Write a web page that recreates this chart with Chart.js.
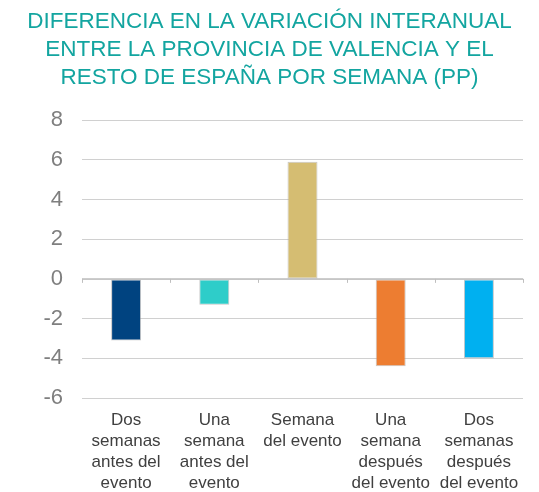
<!DOCTYPE html>
<html>
<head>
<meta charset="utf-8">
<script src="https://cdn.jsdelivr.net/npm/chart.js@4"></script>
<style>
  html, body { margin: 0; padding: 0; background: #fff; }
  #wrap { width: 539px; height: 492px; }
</style>
</head>
<body>
<div id="wrap"><canvas id="grafico"></canvas></div>
<script>
// ================= DATOS =================
const semanas = [
  ["Dos", "semanas", "antes del", "evento"],
  ["Una", "semana", "antes del", "evento"],
  ["Semana", "del evento"],
  ["Una", "semana", "después", "del evento"],
  ["Dos", "semanas", "después", "del evento"]
];
const diferencia = [-3.1, -1.3, 5.9, -4.4, -4.0];
const colores = ["#004380", "#2ECDC9", "#D5BD72", "#ED7D31", "#00B0F0"];
const ticksY = [8, 6, 4, 2, 0, -2, -4, -6];

const titulo = [
  "DIFERENCIA EN LA VARIACIÓN INTERANUAL",
  "ENTRE LA PROVINCIA DE VALENCIA Y EL",
  "RESTO DE ESPAÑA POR SEMANA (PP)"
];

// marcas del eje en la línea del cero
const marcasCero = {
  id: "marcasCero",
  afterDatasetsDraw(chart) {
    const x = chart.scales.x, y = chart.scales.y;
    const ctx = chart.ctx;
    const y0 = y.getPixelForValue(0);
    ctx.save();
    ctx.strokeStyle = "#bfbfbf";
    ctx.lineWidth = 1;
    ctx.beginPath();
    ctx.moveTo(x.left, y0 + 0.5);
    ctx.lineTo(x.right, y0 + 0.5);
    for (let i = 0; i <= semanas.length; i++) {
      const px = Math.round(x.getPixelForValue(i - 0.5)) + 0.5;
      ctx.moveTo(px, y0);
      ctx.lineTo(px, y0 + 4);
    }
    ctx.stroke();
    ctx.restore();
  }
};

new Chart(document.getElementById("grafico"), {
  type: "bar",
  data: {
    labels: semanas,
    datasets: [{
      data: diferencia,
      backgroundColor: colores,
      borderColor: "rgba(160,160,160,0.6)",
      borderWidth: 1,
      borderSkipped: false,
      barPercentage: 0.34,
      categoryPercentage: 1
    }]
  },
  options: {
    responsive: true,
    maintainAspectRatio: false,
    animation: false,
    layout: { padding: { left: 16, right: 16, top: 4, bottom: -6 } },
    plugins: {
      legend: { display: false },
      tooltip: { enabled: false },
      title: {
        display: true,
        text: titulo,
        color: "#13A5A0",
        font: { family: "Liberation Sans", size: 22.5, weight: "normal", lineHeight: 1.245 },
        padding: { top: 4, bottom: 28 }
      }
    },
    scales: {
      x: {
        grid: { display: false, drawOnChartArea: false },
        border: { display: false },
        ticks: {
          color: "#404040",
          font: { family: "Liberation Sans", size: 17, lineHeight: 1.235 },
          maxRotation: 0,
          autoSkip: false,
          padding: 4
        }
      },
      y: {
        min: -6,
        max: 8,
        afterBuildTicks(axis) { axis.ticks = ticksY.map(v => ({ value: v })); },
        afterFit(axis) { axis.width = 66; },
        grid: { color: "#d0d0d0", drawTicks: false, lineWidth: 1 },
        border: { display: false },
        ticks: {
          color: "#7f7f7f",
          font: { family: "Liberation Sans", size: 22 },
          padding: 19
        }
      }
    }
  },
  plugins: [marcasCero]
});
</script>
</body>
</html>
